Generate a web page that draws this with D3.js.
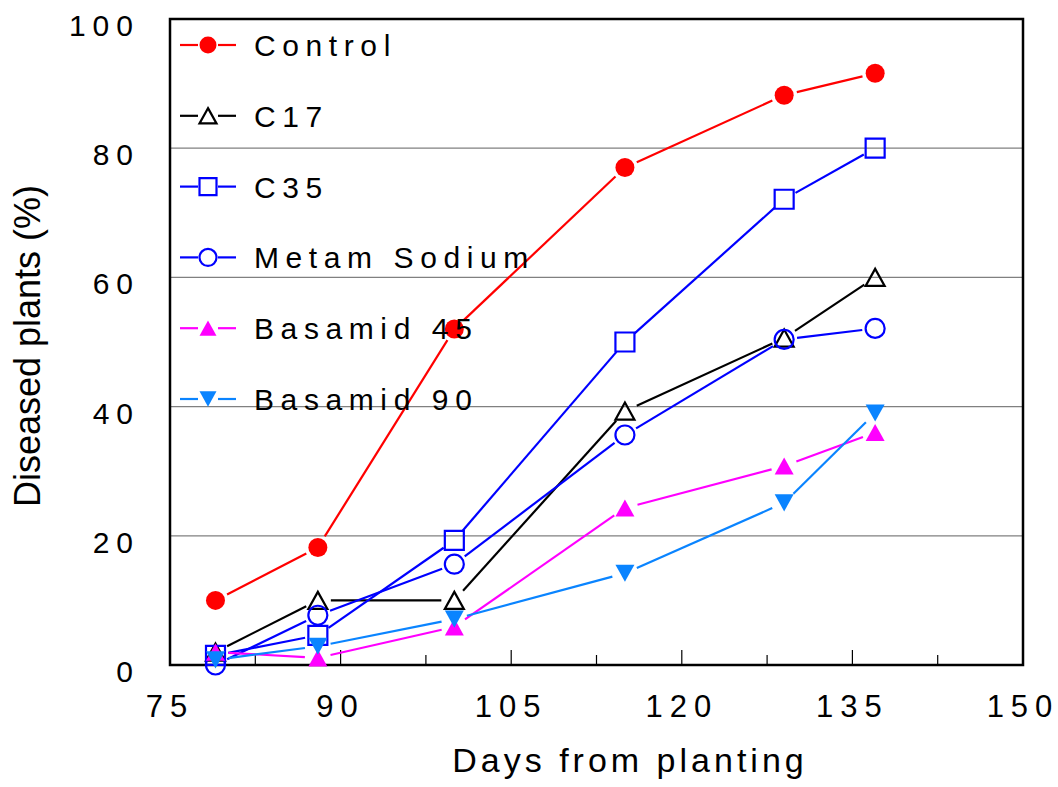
<!DOCTYPE html>
<html>
<head>
<meta charset="utf-8">
<script src="https://cdn.jsdelivr.net/npm/d3@7"></script>
<style>
  body { margin: 0; background: #fff; }
  text { font-family: "Liberation Sans", Arial, sans-serif; fill: #000; }
</style>
</head>
<body>
<div id="chart"></div>
<script>
const days = [79, 88, 100, 115, 129, 137];
const control = [10, 18.2, 52, 77, 88.2, 91.6];
const c17 = [2, 10, 10, 39.3, 50.6, 60];
const c35 = [1.5, 4.6, 19.3, 50, 72.1, 80];
const metam = [0, 7.7, 15.6, 35.6, 50.4, 52.1];
const basamid45 = [2, 1.1, 5.9, 24.3, 30.8, 36];
const basamid90 = [0.8, 2.9, 7.1, 14.2, 25.1, 39];
const xTicks = [75, 90, 105, 120, 135, 150];
const yTicks = [0, 20, 40, 60, 80, 100];

const series = [
  { name: "Control", values: control, color: "#ff0000", shape: "circle", fill: true },
  { name: "C17", values: c17, color: "#000000", shape: "up", fill: false },
  { name: "C35", values: c35, color: "#0000ff", shape: "square", fill: false },
  { name: "Metam Sodium", values: metam, color: "#0000ff", shape: "circle", fill: false },
  { name: "Basamid 45", values: basamid45, color: "#ff00ff", shape: "up", fill: true },
  { name: "Basamid 90", values: basamid90, color: "#0a84ff", shape: "down", fill: true }
];

const W = 1058, H = 787;
const mLeft = 170, mRight = 1023, mTop = 19, mBottom = 665;

const svg = d3.select("#chart").append("svg")
  .attr("width", W).attr("height", H);

const x = d3.scaleLinear().domain([75, 150]).range([mLeft, mRight]);
const y = d3.scaleLinear().domain([0, 100]).range([mBottom, mTop]);

// gridlines
svg.append("g")
  .selectAll("line")
  .data(yTicks.filter(d => d > 0 && d < 100))
  .enter().append("line")
  .attr("x1", mLeft).attr("x2", mRight)
  .attr("y1", d => y(d)).attr("y2", d => y(d))
  .attr("stroke", "#808080").attr("stroke-width", 1.2);

// x ticks (inside, every 7.5 days, longer at labels)
const minor = d3.range(75, 150.1, 7.5);
svg.append("g")
  .selectAll("line")
  .data(minor)
  .enter().append("line")
  .attr("x1", d => x(d)).attr("x2", d => x(d))
  .attr("y1", mBottom)
  .attr("y2", d => mBottom - (d % 15 === 0 ? 15 : 10))
  .attr("stroke", "#000").attr("stroke-width", 1.2);

// frame
svg.append("rect")
  .attr("x", mLeft).attr("y", mTop)
  .attr("width", mRight - mLeft).attr("height", mBottom - mTop)
  .attr("fill", "none").attr("stroke", "#000").attr("stroke-width", 2.5);

// tick labels
svg.append("g")
  .selectAll("text")
  .data(xTicks)
  .enter().append("text")
  .attr("x", d => x(d)).attr("y", 717)
  .attr("text-anchor", "middle")
  .attr("font-size", 31).attr("letter-spacing", 7)
  .text(d => d);

svg.append("g")
  .selectAll("text")
  .data(yTicks)
  .enter().append("text")
  .attr("x", 140).attr("y", d => y(d) + 17)
  .attr("text-anchor", "end")
  .attr("font-size", 30).attr("letter-spacing", 7)
  .text(d => d);

// axis titles
svg.append("text")
  .attr("x", 630).attr("y", 772)
  .attr("text-anchor", "middle")
  .attr("font-size", 34).attr("letter-spacing", 4)
  .text("Days from planting");

svg.append("text")
  .attr("transform", "translate(40,346) rotate(-90)")
  .attr("text-anchor", "middle")
  .attr("font-size", 36)
  .text("Diseased plants (%)");

// marker drawing
function markerPath(shape, s) {
  if (shape === "circle") return d3.symbol().type(d3.symbolCircle).size(Math.PI * s * s / 4)();
  if (shape === "square") return d3.symbol().type(d3.symbolSquare).size(s * s)();
  const h = s * 0.9, w = s / 2;
  if (shape === "up") return `M0,${-h / 2}L${w},${h / 2}L${-w},${h / 2}Z`;
  return `M0,${h / 2}L${w},${-h / 2}L${-w},${-h / 2}Z`;
}

function drawMarker(g, s, cx, cy, size) {
  g.append("path")
    .attr("d", markerPath(s.shape, size))
    .attr("transform", `translate(${cx},${cy})`)
    .attr("fill", s.fill ? s.color : "none")
    .attr("stroke", s.color)
    .attr("stroke-width", s.fill ? 0 : 2.2);
}

const gap = 13;
series.forEach(s => {
  const g = svg.append("g");
  const pts = days.map((d, i) => [x(d), y(s.values[i])]);
  for (let i = 0; i < pts.length - 1; i++) {
    const [x1, y1] = pts[i], [x2, y2] = pts[i + 1];
    const len = Math.hypot(x2 - x1, y2 - y1);
    if (len < gap * 2) continue;
    const ux = (x2 - x1) / len, uy = (y2 - y1) / len;
    g.append("line")
      .attr("x1", x1 + ux * gap).attr("y1", y1 + uy * gap)
      .attr("x2", x2 - ux * gap).attr("y2", y2 - uy * gap)
      .attr("stroke", s.color).attr("stroke-width", 2.2);
  }
  pts.forEach(p => drawMarker(g, s, p[0], p[1], 19));
});

// legend
const legend = svg.append("g");
series.forEach((s, i) => {
  const ly = 45 + i * 70.8;
  const g = legend.append("g");
  g.append("line").attr("x1", 180).attr("x2", 198).attr("y1", ly).attr("y2", ly)
    .attr("stroke", s.color).attr("stroke-width", 2.2);
  g.append("line").attr("x1", 218).attr("x2", 236).attr("y1", ly).attr("y2", ly)
    .attr("stroke", s.color).attr("stroke-width", 2.2);
  drawMarker(g, s, 208, ly, 17);
  g.append("text")
    .attr("x", 254).attr("y", ly + 11)
    .attr("font-size", 30).attr("letter-spacing", 6.6)
    .text(s.name);
});
</script>
</body>
</html>
